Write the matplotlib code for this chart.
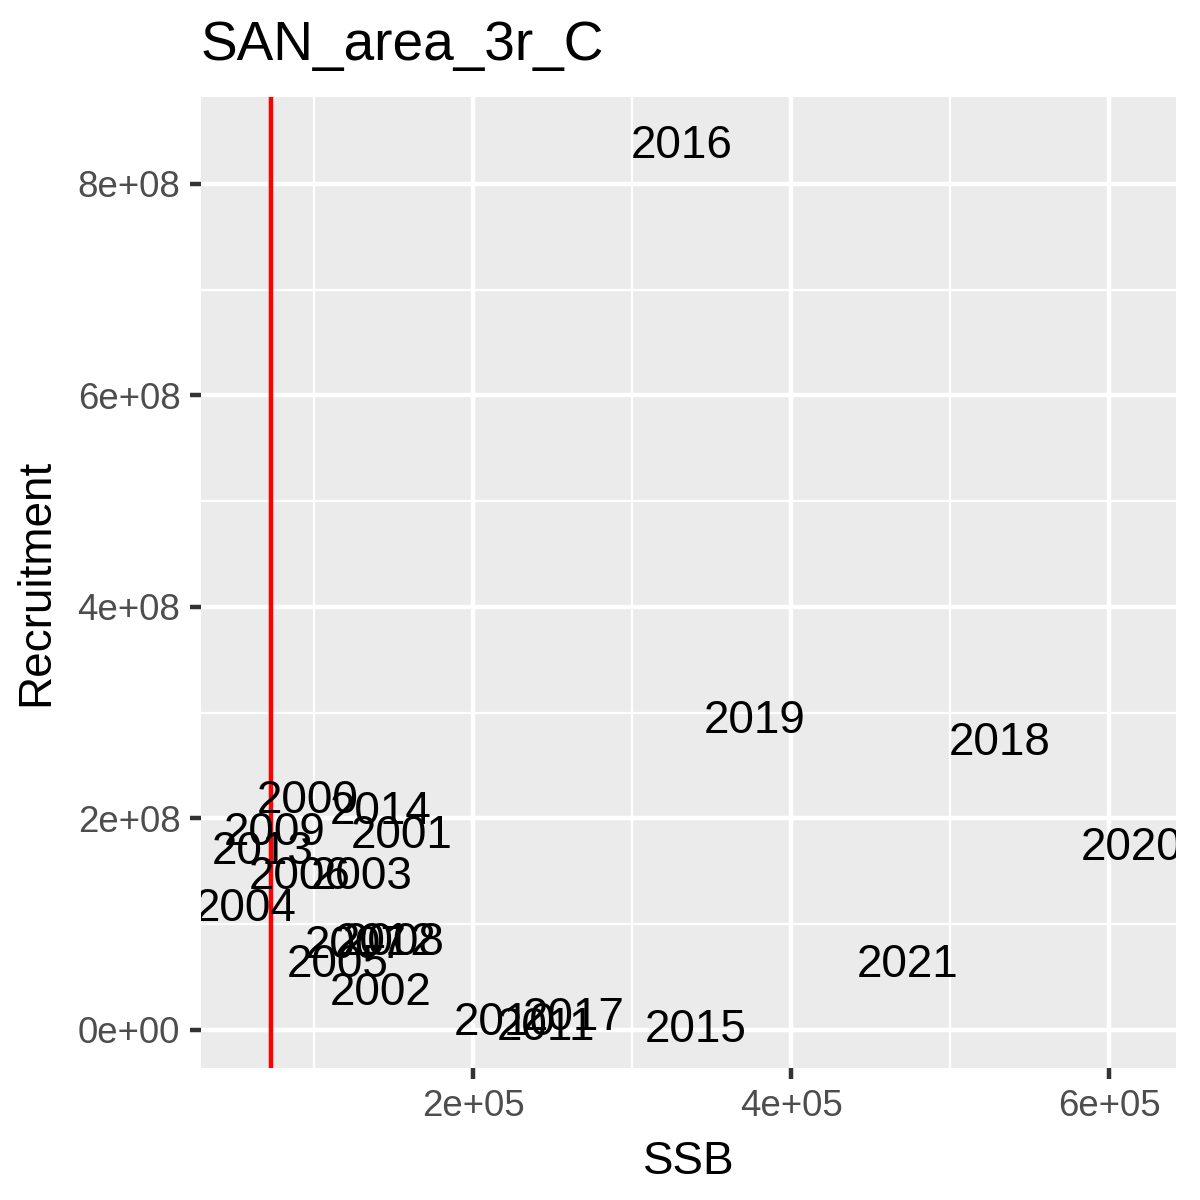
import matplotlib
matplotlib.use("Agg")
import matplotlib.pyplot as plt
from matplotlib.transforms import offset_copy

# stock-recruitment points, labelled by year
years = ["2000", "2001", "2002", "2003", "2004", "2005", "2006", "2007",
         "2008", "2009", "2010", "2011", "2012", "2013", "2014", "2015",
         "2016", "2017", "2018", "2019", "2020", "2021"]
ssb = [0.96e5, 1.55e5, 1.42e5, 1.30e5, 0.57e5, 1.15e5, 0.91e5, 1.26e5,
       1.50e5, 0.755e5, 2.20e5, 2.46e5, 1.45e5, 0.68e5, 1.42e5, 3.40e5,
       3.31e5, 2.635e5, 5.31e5, 3.77e5, 6.14e5, 4.73e5]
rec = [2.19e8, 1.86e8, 3.8e7, 1.47e8, 1.17e8, 6.4e7, 1.47e8, 8.2e7,
       8.5e7, 1.89e8, 9.5e6, 4.7e6, 8.5e7, 1.71e8, 2.09e8, 2.8e6,
       8.39e8, 1.42e7, 2.74e8, 2.95e8, 1.75e8, 6.4e7]
blim = 7.3e4

xticks = [2e5, 4e5, 6e5]
xminor = [1e5, 3e5, 5e5]
yticks = [0, 2e8, 4e8, 6e8, 8e8]
yminor = [1e8, 3e8, 5e8, 7e8]

fig = plt.figure(figsize=(4, 4), dpi=300)
ax = fig.add_axes([0.1675, 0.11, 0.8125, 0.809])
ax.set_facecolor("#EBEBEB")
for s in ax.spines.values():
    s.set_visible(False)

for v in xminor:
    ax.axvline(v, color="white", lw=0.53, zorder=0)
for v in yminor:
    ax.axhline(v, color="white", lw=0.53, zorder=0)
for v in xticks:
    ax.axvline(v, color="white", lw=1.07, zorder=0)
for v in yticks:
    ax.axhline(v, color="white", lw=1.07, zorder=0)

# nudge so digits sit centred like ggplot's geom_text
tr = offset_copy(ax.transData, fig=fig, x=0, y=-0.7, units="points")
for yr, x, y in zip(years, ssb, rec):
    ax.text(x, y, yr, ha="center", va="center", fontsize=11, color="black",
            family="Liberation Sans", clip_on=True, transform=tr)

ax.axvline(blim, color="red", lw=1.07)

ax.set_xlim(2.89e4, 6.42e5)
ax.set_ylim(-3.6e7, 8.82e8)
ax.set_xticks(xticks)
ax.set_xticklabels(["2e+05", "4e+05", "6e+05"])
ax.set_yticks(yticks)
ax.set_yticklabels(["0e+00", "2e+08", "4e+08", "6e+08", "8e+08"])
ax.tick_params(length=2.75, width=1.07, color="#333333", labelcolor="#4D4D4D",
               labelsize=8.8, pad=2.2)
for lab in ax.get_xticklabels() + ax.get_yticklabels():
    lab.set_family("Liberation Sans")

ax.set_xlabel("SSB", fontsize=11, family="Liberation Sans", labelpad=4)
ax.set_ylabel("Recruitment", fontsize=11, family="Liberation Sans", labelpad=4.5)
fig.text(0.1675, 0.962, "SAN_area_3r_C", fontsize=13.2, family="Liberation Sans",
         ha="left", va="center")

fig.savefig("out.png", dpi=300)
